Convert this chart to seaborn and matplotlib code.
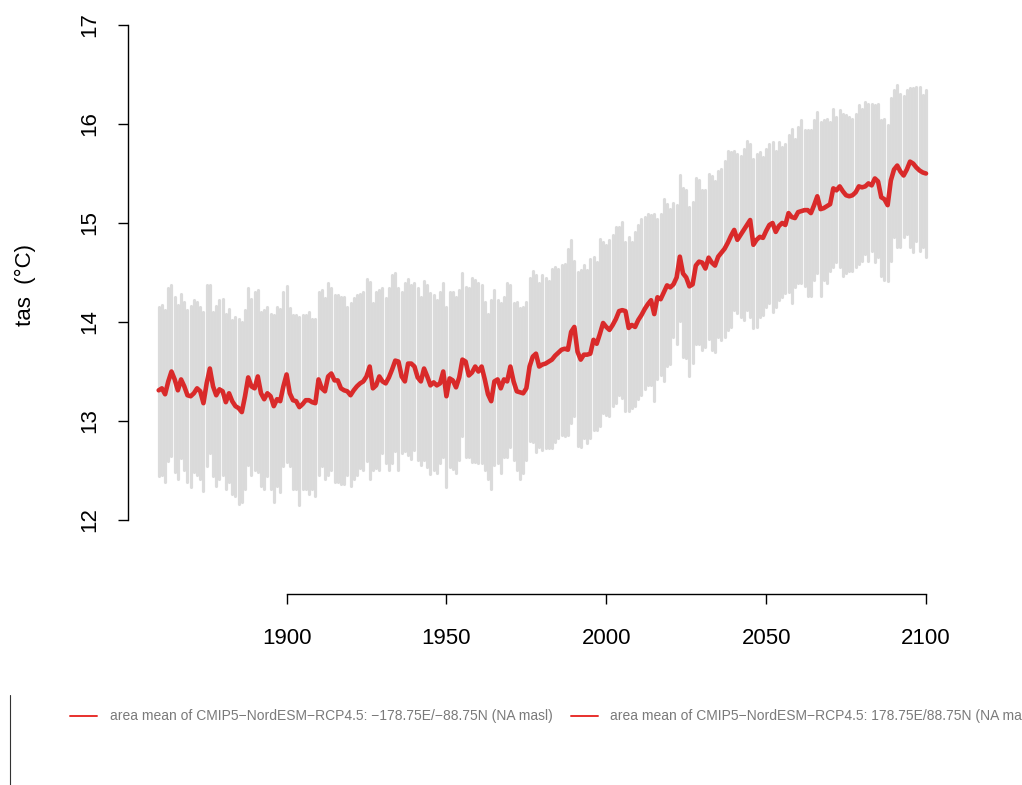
import numpy as np
import pandas as pd
import matplotlib
matplotlib.use("Agg")
import matplotlib.pyplot as plt
import seaborn as sns
from matplotlib.lines import Line2D

years = list(range(1860, 2101))

tas_mean = [
    13.31, 13.33, 13.27, 13.40, 13.50, 13.42, 13.31, 13.42, 13.35, 13.26,
    13.25, 13.28, 13.33, 13.30, 13.18, 13.38, 13.53, 13.35, 13.26, 13.32,
    13.30, 13.19, 13.28, 13.20, 13.15, 13.13, 13.09, 13.25, 13.44, 13.35,
    13.33, 13.45, 13.28, 13.22, 13.28, 13.25, 13.15, 13.22, 13.20, 13.35,
    13.47, 13.28, 13.21, 13.20, 13.14, 13.17, 13.21, 13.21, 13.19, 13.18,
    13.42, 13.33, 13.30, 13.45, 13.48, 13.41, 13.41, 13.33, 13.31, 13.30,
    13.26, 13.31, 13.35, 13.38, 13.40, 13.45, 13.55, 13.33, 13.36, 13.45,
    13.40, 13.38, 13.44, 13.52, 13.61, 13.60, 13.45, 13.40, 13.58, 13.58,
    13.55, 13.44, 13.40, 13.53, 13.45, 13.36, 13.39, 13.36, 13.38, 13.50,
    13.25, 13.43, 13.41, 13.34, 13.44, 13.62, 13.60, 13.46, 13.49, 13.55,
    13.50, 13.55, 13.42, 13.27, 13.20, 13.40, 13.42, 13.33, 13.42, 13.40,
    13.55, 13.40, 13.30, 13.29, 13.28, 13.33, 13.55, 13.65, 13.68, 13.55,
    13.57, 13.58, 13.60, 13.62, 13.66, 13.69, 13.72, 13.73, 13.72, 13.90,
    13.95, 13.70, 13.62, 13.67, 13.67, 13.68, 13.82, 13.78, 13.88, 13.99,
    13.95, 13.92, 13.97, 14.03, 14.11, 14.12, 14.11, 13.94, 13.97, 13.95,
    14.02, 14.07, 14.13, 14.18, 14.22, 14.08, 14.25, 14.23, 14.30, 14.37,
    14.35, 14.38, 14.45, 14.66, 14.49, 14.45, 14.36, 14.38, 14.57, 14.61,
    14.60, 14.54, 14.65, 14.60, 14.57, 14.66, 14.70, 14.74, 14.80, 14.87,
    14.93, 14.83, 14.88, 14.93, 14.98, 15.03, 14.78, 14.83, 14.86, 14.85,
    14.92, 14.98, 15.00, 14.91, 14.97, 15.00, 14.98, 15.10, 15.06, 15.05,
    15.11, 15.12, 15.13, 15.13, 15.10, 15.18, 15.27, 15.14, 15.15, 15.17,
    15.19, 15.35, 15.33, 15.37, 15.32, 15.28, 15.27, 15.28, 15.31, 15.37,
    15.36, 15.37, 15.40, 15.38, 15.45, 15.42, 15.26, 15.24, 15.18, 15.43,
    15.54, 15.58, 15.52, 15.48, 15.54, 15.62, 15.60, 15.56, 15.53, 15.51,
    15.50,
]

tas_max = [
    14.15, 14.17, 14.12, 14.34, 14.37, 14.25, 14.17, 14.28, 14.20, 14.12,
    14.16, 14.22, 14.20, 14.15, 14.10, 14.37, 14.37, 14.10, 14.16, 14.22,
    14.23, 14.08, 14.13, 14.02, 14.05, 14.03, 14.00, 14.12, 14.34, 14.23,
    14.30, 14.32, 14.10, 14.12, 14.15, 14.08, 14.07, 14.15, 14.13, 14.30,
    14.36, 14.14, 14.07, 14.07, 14.05, 14.07, 14.07, 14.10, 14.03, 14.03,
    14.30, 14.32, 14.24, 14.39, 14.34, 14.27, 14.27, 14.25, 14.25, 14.15,
    14.19, 14.24, 14.27, 14.28, 14.30, 14.43, 14.40, 14.19, 14.30, 14.32,
    14.34, 14.24, 14.34, 14.47, 14.50, 14.34, 14.30, 14.39, 14.43, 14.37,
    14.39, 14.34, 14.25, 14.41, 14.37, 14.29, 14.27, 14.22, 14.30, 14.39,
    14.15, 14.30, 14.30, 14.25, 14.32, 14.49, 14.35, 14.34, 14.44, 14.42,
    14.39, 14.37, 14.20, 14.08, 14.22, 14.32, 14.22, 14.19, 14.25, 14.39,
    14.37, 14.19, 14.20, 14.14, 14.15, 14.20, 14.44, 14.52, 14.47, 14.39,
    14.47, 14.44, 14.41, 14.54, 14.56, 14.54, 14.58, 14.59, 14.74, 14.83,
    14.62, 14.51, 14.53, 14.58, 14.53, 14.64, 14.66, 14.61, 14.84, 14.81,
    14.78, 14.83, 14.88, 14.96, 14.96, 15.01, 14.81, 14.86, 14.81, 14.91,
    14.98, 15.04, 15.06, 15.09, 15.08, 15.09, 15.04, 15.09, 15.24, 15.19,
    15.14, 15.20, 15.18, 15.48, 15.35, 15.33, 15.16, 15.21, 15.45, 15.43,
    15.33, 15.33, 15.50, 15.47, 15.42, 15.53, 15.55, 15.63, 15.73, 15.72,
    15.73, 15.70, 15.68, 15.75, 15.83, 15.80, 15.65, 15.70, 15.72, 15.67,
    15.75, 15.80, 15.82, 15.73, 15.82, 15.77, 15.80, 15.89, 15.95, 15.85,
    15.97, 16.04, 15.94, 15.94, 15.94, 16.04, 16.12, 16.02, 16.04, 16.05,
    16.02, 16.15, 16.07, 16.14, 16.10, 16.09, 16.07, 16.05, 16.10, 16.19,
    16.15, 16.22, 16.20, 16.20, 16.19, 16.20, 16.04, 16.05, 15.99, 16.26,
    16.34, 16.39, 16.30, 16.28, 16.34, 16.36, 16.36, 16.37, 16.37, 16.29,
    16.34,
]

tas_min = [
    12.44, 12.45, 12.38, 12.60, 12.65, 12.48, 12.41, 12.63, 12.51, 12.38,
    12.33, 12.48, 12.45, 12.41, 12.29, 12.55, 12.68, 12.44, 12.34, 12.41,
    12.45, 12.31, 12.38, 12.26, 12.24, 12.16, 12.18, 12.31, 12.56, 12.45,
    12.51, 12.48, 12.34, 12.31, 12.44, 12.31, 12.18, 12.34, 12.28, 12.55,
    12.59, 12.55, 12.31, 12.31, 12.15, 12.31, 12.31, 12.26, 12.31, 12.24,
    12.45, 12.55, 12.41, 12.45, 12.51, 12.38, 12.38, 12.36, 12.36, 12.45,
    12.34, 12.41, 12.45, 12.53, 12.51, 12.60, 12.41, 12.51, 12.53, 12.51,
    12.68, 12.58, 12.51, 12.58, 12.70, 12.51, 12.68, 12.70, 12.66, 12.62,
    12.71, 12.61, 12.56, 12.61, 12.54, 12.46, 12.51, 12.47, 12.58, 12.64,
    12.33, 12.54, 12.52, 12.47, 12.61, 12.85, 12.64, 12.64, 12.59, 12.59,
    12.58, 12.58, 12.51, 12.41, 12.31, 12.56, 12.58, 12.47, 12.64, 12.64,
    12.74, 12.61, 12.51, 12.41, 12.47, 12.61, 12.80, 12.79, 12.69, 12.74,
    12.71, 12.73, 12.73, 12.73, 12.79, 12.83, 12.86, 12.85, 12.86, 12.98,
    13.05, 12.75, 12.74, 12.83, 12.78, 12.83, 12.91, 12.91, 12.95, 13.08,
    13.06, 13.05, 13.15, 13.18, 13.26, 13.23, 13.10, 13.10, 13.13, 13.15,
    13.22, 13.26, 13.32, 13.36, 13.36, 13.20, 13.42, 13.46, 13.40, 13.56,
    13.58, 13.85, 13.78, 14.01, 13.65, 13.64, 13.45, 13.59, 13.78, 13.78,
    13.72, 13.75, 13.83, 13.72, 13.70, 13.85, 13.82, 13.85, 13.92, 13.95,
    14.12, 14.09, 14.05, 14.02, 14.12, 14.05, 13.94, 13.95, 14.05, 14.07,
    14.15, 14.19, 14.10, 14.15, 14.22, 14.25, 14.29, 14.30, 14.19, 14.35,
    14.39, 14.39, 14.36, 14.26, 14.26, 14.42, 14.49, 14.26, 14.42, 14.39,
    14.52, 14.56, 14.61, 14.56, 14.46, 14.49, 14.52, 14.52, 14.56, 14.59,
    14.62, 14.69, 14.62, 14.72, 14.61, 14.66, 14.46, 14.42, 14.41, 14.62,
    14.86, 14.76, 14.76, 14.86, 14.89, 14.76, 14.71, 14.82, 14.72, 14.76,
    14.66,
]

y_ticks = [12, 13, 14, 15, 16, 17]
x_ticks = [1900, 1950, 2000, 2050, 2100]
y_label = "tas  (°C)"
legend_labels = [
    "area mean of CMIP5\u2212NordESM\u2212RCP4.5: \u2212178.75E/\u221288.75N (NA masl)",
    "area mean of CMIP5\u2212NordESM\u2212RCP4.5: 178.75E/88.75N (NA masl)",
]

sns.set_style("white")
plt.rcParams["font.family"] = ["Liberation Sans", "DejaVu Sans"]

W, H = 1022, 785
fig = plt.figure(figsize=(W / 100, H / 100), dpi=100)
ax = fig.add_axes([128 / W, (H - 594) / H, 828.7 / W, 569 / H])

df = pd.DataFrame({"year": years, "mean": tas_mean, "lo": tas_min, "hi": tas_max})

red = "#d92a2a"
ax.vlines(df["year"], df["lo"], df["hi"], colors="#cfcfcf", alpha=0.75,
          linewidth=2.3, capstyle="round")
sns.lineplot(data=df, x="year", y="mean", ax=ax, color=red, linewidth=3.3,
             legend=False, solid_capstyle="round")

ax.set_xlim(1850.4, 2109.6)
ax.set_ylim(12 - 74 / 99, 17)

for s in ["top", "right"]:
    ax.spines[s].set_visible(False)
ax.spines["left"].set_bounds(12, 17)
ax.spines["bottom"].set_bounds(1900, 2100)
for s in ["left", "bottom"]:
    ax.spines[s].set_color("black")
    ax.spines[s].set_linewidth(1.0)

ax.set_xticks(x_ticks)
ax.set_xticklabels([str(t) for t in x_ticks])
ax.set_yticks(y_ticks)
ax.set_yticklabels([str(t) for t in y_ticks], rotation=90, va="center")
ax.tick_params(axis="both", direction="out", length=7.2, width=1.0,
               color="black", labelsize=16, labelcolor="black",
               bottom=True, left=True, top=False, right=False)
ax.tick_params(axis="x", pad=17)
ax.tick_params(axis="y", pad=13)
ax.set_xlabel("")
ax.set_ylabel("")
ax.grid(False)

fig.text(25 / W, 1 - 285 / H, y_label, rotation=90, ha="center", va="center",
         fontsize=16, color="black")

# legend (bottom)
fig.add_artist(Line2D([10 / W, 10 / W], [1 - 695 / H, 1 - 785 / H],
                      color="#333333", linewidth=0.8))
leg_y = 1 - 716 / H
for (kx0, kx1, tx), lab in zip([(70, 97, 110), (571, 598, 610)], legend_labels):
    fig.add_artist(Line2D([kx0 / W, kx1 / W], [leg_y, leg_y], color="#e8302c",
                          linewidth=1.4))
    fig.text(tx / W, leg_y, lab, ha="left", va="center", fontsize=10,
             color="#7a7a7a")

fig.savefig("out.png", dpi=100)
